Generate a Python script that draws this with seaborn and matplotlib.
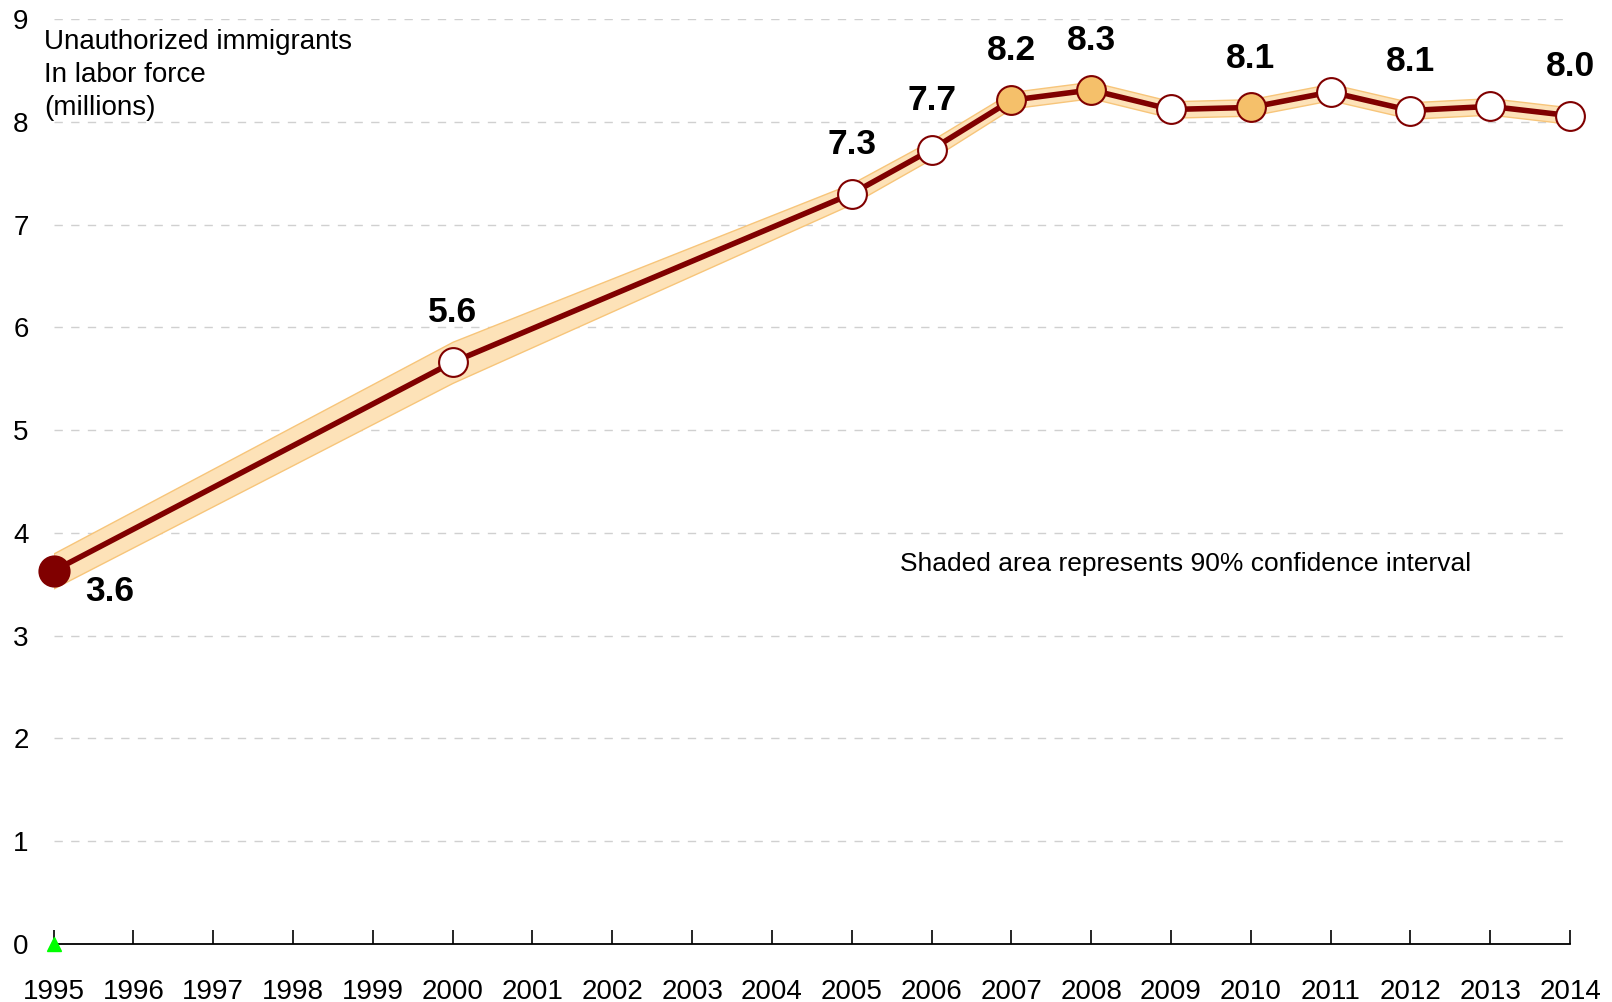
import matplotlib
matplotlib.use("Agg")
import matplotlib.pyplot as plt
import seaborn as sns
import pandas as pd

# data
years = [1995, 2000, 2005, 2006, 2007, 2008, 2009, 2010, 2011, 2012, 2013, 2014]
workers = [3.63, 5.66, 7.30, 7.73, 8.21, 8.31, 8.12, 8.14, 8.29, 8.11, 8.15, 8.06]
ci_half = [0.17, 0.20, 0.10, 0.09, 0.08, 0.08, 0.08, 0.08, 0.08, 0.08, 0.08, 0.08]
point_kind = ["start", "open", "open", "open", "sig", "sig", "open", "sig", "open", "open", "open", "open"]
value_labels = ["3.6", "5.6", "7.3", "7.7", "8.2", "8.3", "", "8.1", "", "8.1", "", "8.0"]
tick_years = list(range(1995, 2015))

df = pd.DataFrame({"year": years, "workers": workers, "kind": point_kind})
df["lo"] = [w - c for w, c in zip(workers, ci_half)]
df["hi"] = [w + c for w, c in zip(workers, ci_half)]

sns.set_style("white")
plt.rcParams["font.family"] = ["Liberation Sans", "DejaVu Sans"]
plt.rcParams["text.color"] = "black"
plt.rcParams["xtick.color"] = "black"
plt.rcParams["ytick.color"] = "black"

fig = plt.figure(figsize=(16.12, 10.02), dpi=100)
ax = fig.add_axes([0.0332, 0.0579, 0.9408, 0.9231])

dark = "#800000"
ax.fill_between(df["year"], df["lo"], df["hi"], color="#fde2b8", edgecolor="#f7c57a",
                linewidth=1.0, zorder=2)
sns.lineplot(data=df, x="year", y="workers", color=dark, linewidth=4, ax=ax, zorder=3)

face = {"start": dark, "open": "white", "sig": "#f5c06a"}
for kind, sub in df.groupby("kind"):
    size = 470 if kind == "start" else 430
    sns.scatterplot(data=sub, x="year", y="workers", s=size, color=face[kind],
                    edgecolor=dark, linewidth=1.5, ax=ax, zorder=4, clip_on=False, legend=False)

for x, y, lab in zip(years, workers, value_labels):
    if not lab:
        continue
    if x == 1995:
        ax.text(x + 0.7, y - 0.2, lab, ha="center", va="center", fontsize=25.5,
                fontweight="bold", zorder=5)
    else:
        ax.text(x, y + 0.48, lab, ha="center", va="center", fontsize=25.5,
                fontweight="bold", zorder=5)

ax.plot([1995], [0], marker="^", color="#00ff00", markersize=10, clip_on=False, zorder=6)

ax.text(1994.88, 8.9, "Unauthorized immigrants\nIn labor force\n(millions)", ha="left",
        va="top", fontsize=20, linespacing=1.35)
ax.text(2005.6, 3.7, "Shaded area represents 90% confidence interval", ha="left",
        va="center", fontsize=19)

ax.set_xlim(1995, 2014)
ax.set_ylim(0, 9)
ax.set_xticks(tick_years)
ax.set_yticks(range(0, 10))
ax.set_xlabel("")
ax.set_ylabel("")
ax.tick_params(axis="x", bottom=True, direction="in", length=10, width=1.2, color="black",
               labelsize=20, pad=25)
ax.tick_params(axis="y", left=False, length=0, labelsize=20, pad=18)
ax.yaxis.grid(True, color="#d0d0d0", linestyle=(0, (6, 6)), linewidth=1.0)
ax.xaxis.grid(False)
for side in ["left", "right", "top"]:
    ax.spines[side].set_visible(False)
ax.spines["bottom"].set_color("black")
ax.spines["bottom"].set_linewidth(1.3)

fig.savefig("out.png", dpi=100)
